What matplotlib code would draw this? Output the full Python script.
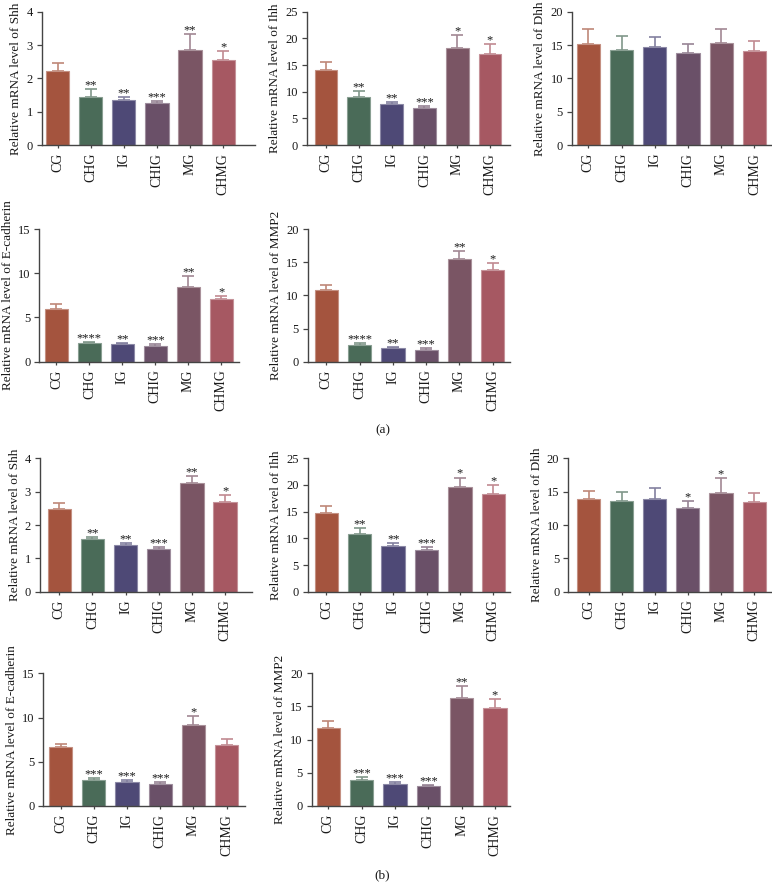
import numpy as np
import matplotlib
matplotlib.use("Agg")
import matplotlib.pyplot as plt
import matplotlib.colors as mcolors

plt.rcParams['font.family'] = ['Liberation Serif', 'DejaVu Serif']

# groups and colours
groups = ["CG", "CHG", "IG", "CHIG", "MG", "CHMG"]
colors = ["#A4543E", "#4A6B58", "#4E4976", "#6A5068", "#7A5564", "#A65862"]

# (a)
a_shh_mean = [2.23, 1.45, 1.35, 1.25, 2.85, 2.55]
a_shh_err = [0.24, 0.24, 0.08, 0.08, 0.47, 0.28]
a_shh_sig = ["", "**", "**", "***", "**", "*"]

a_ihh_mean = [14.0, 9.05, 7.6, 7.0, 18.1, 17.0]
a_ihh_err = [1.5, 1.05, 0.5, 0.4, 2.5, 1.9]
a_ihh_sig = ["", "**", "**", "***", "*", "*"]

a_dhh_mean = [15.1, 14.25, 14.75, 13.75, 15.35, 14.15]
a_dhh_err = [2.35, 2.1, 1.45, 1.35, 2.05, 1.5]
a_dhh_sig = ["", "", "", "", "", ""]

a_ecad_mean = [5.96, 2.15, 1.96, 1.77, 8.49, 7.13]
a_ecad_err = [0.53, 0.11, 0.11, 0.19, 1.21, 0.34]
a_ecad_sig = ["", "****", "**", "***", "**", "*"]

a_mmp2_mean = [10.85, 2.56, 2.1, 1.8, 15.5, 13.8]
a_mmp2_err = [0.65, 0.2, 0.16, 0.2, 1.2, 1.1]
a_mmp2_sig = ["", "****", "**", "***", "**", "*"]

# (b)
b_shh_mean = [2.48, 1.58, 1.41, 1.27, 3.25, 2.70]
b_shh_err = [0.19, 0.06, 0.05, 0.08, 0.23, 0.19]
b_shh_sig = ["", "**", "**", "***", "**", "*"]

b_ihh_mean = [14.7, 10.9, 8.6, 7.8, 19.6, 18.4]
b_ihh_err = [1.4, 1.0, 0.6, 0.6, 1.8, 1.6]
b_ihh_sig = ["", "**", "**", "***", "*", "*"]

b_dhh_mean = [13.9, 13.65, 13.95, 12.5, 14.85, 13.5]
b_dhh_err = [1.25, 1.35, 1.65, 1.1, 2.2, 1.25]
b_dhh_sig = ["", "", "", "*", "*", ""]

b_ecad_mean = [6.63, 2.9, 2.71, 2.49, 9.12, 6.94]
b_ecad_err = [0.42, 0.23, 0.19, 0.22, 1.02, 0.64]
b_ecad_sig = ["", "***", "***", "***", "*", ""]

b_mmp2_mean = [11.8, 3.85, 3.35, 2.95, 16.3, 14.8]
b_mmp2_err = [1.05, 0.55, 0.3, 0.25, 1.8, 1.3]
b_mmp2_sig = ["", "***", "***", "***", "**", "*"]

W, H = 772, 891
fig = plt.figure(figsize=(W / 100, H / 100), dpi=100)


def lighten(c, f):
    r, g, b = mcolors.to_rgb(c)
    return (r + (1 - r) * f, g + (1 - g) * f, b + (1 - b) * f)


def panel(box, xlim, mean, err, sig, gene, ymax, step):
    l, t, r, b = box
    ax = fig.add_axes([l / W, 1 - b / H, (r - l) / W, (b - t) / H])
    x = np.arange(len(groups))
    ax.bar(x, mean, width=0.7, color=colors,
           edgecolor=[lighten(c, 0.35) for c in colors], linewidth=0.8, zorder=2)
    for i in range(len(groups)):
        ax.errorbar(x[i], mean[i], yerr=[[0], [err[i]]], fmt='none',
                    ecolor=lighten(colors[i], 0.3), elinewidth=1.2,
                    capsize=4.2, capthick=1.2, zorder=1)
        if sig[i]:
            ax.annotate(sig[i], (x[i], mean[i] + err[i]), xytext=(0, 0.5),
                        textcoords='offset points', ha='center', va='baseline',
                        fontsize=9, color='#1a1a1a')
    ax.set_xlim(*xlim)
    ax.set_ylim(0, ymax)
    ax.set_yticks(np.arange(0, ymax + 0.01, step))
    ax.set_xticks(x)
    ax.set_xticklabels(groups, rotation=90, fontsize=10, color='#1a1a1a')
    ax.tick_params(axis='y', labelsize=9, labelcolor='#1a1a1a', length=3.5,
                   width=0.9, color='#444444', pad=3)
    ax.tick_params(axis='x', length=2.5, width=0.9, color='#444444', pad=3)
    for s in ['top', 'right']:
        ax.spines[s].set_visible(False)
    for s in ['left', 'bottom']:
        ax.spines[s].set_color('#444444')
        ax.spines[s].set_linewidth(1.0)
    ax.set_ylabel("Relative mRNA level of " + gene, fontsize=9.5,
                  color='#1a1a1a', labelpad=3)
    return ax


panel((41.7, 11.7, 255, 145), (-0.48, 5.96), a_shh_mean, a_shh_err, a_shh_sig, "Shh", 4, 1)
panel((307, 11.7, 510, 145), (-0.58, 5.61), a_ihh_mean, a_ihh_err, a_ihh_sig, "Ihh", 25, 5)
panel((572, 11.7, 771, 145), (-0.49, 5.5), a_dhh_mean, a_dhh_err, a_dhh_sig, "Dhh", 20, 5)
panel((39.3, 229, 239, 361.7), (-0.52, 5.54), a_ecad_mean, a_ecad_err, a_ecad_sig, "E-cadherin", 15, 5)
panel((307.7, 229, 510, 361.7), (-0.56, 5.52), a_mmp2_mean, a_mmp2_err, a_mmp2_sig, "MMP2", 20, 5)

panel((40, 458.3, 252.3, 591.7), (-0.58, 5.82), b_shh_mean, b_shh_err, b_shh_sig, "Shh", 4, 1)
panel((307.7, 458.3, 510, 591.7), (-0.56, 5.5), b_ihh_mean, b_ihh_err, b_ihh_sig, "Ihh", 25, 5)
panel((568.3, 458.3, 771, 591.7), (-0.61, 5.51), b_dhh_mean, b_dhh_err, b_dhh_sig, "Dhh", 20, 5)
panel((43.3, 673.3, 245, 806), (-0.52, 5.55), b_ecad_mean, b_ecad_err, b_ecad_sig, "E-cadherin", 15, 5)
panel((311.7, 673.3, 510, 806), (-0.5, 5.45), b_mmp2_mean, b_mmp2_err, b_mmp2_sig, "MMP2", 20, 5)

fig.text(383 / W, 1 - 430 / H, "(a)", ha='center', va='center', fontsize=9.5, color='#1a1a1a')
fig.text(382 / W, 1 - 875 / H, "(b)", ha='center', va='center', fontsize=9.5, color='#1a1a1a')

fig.savefig("out.png", dpi=100)
